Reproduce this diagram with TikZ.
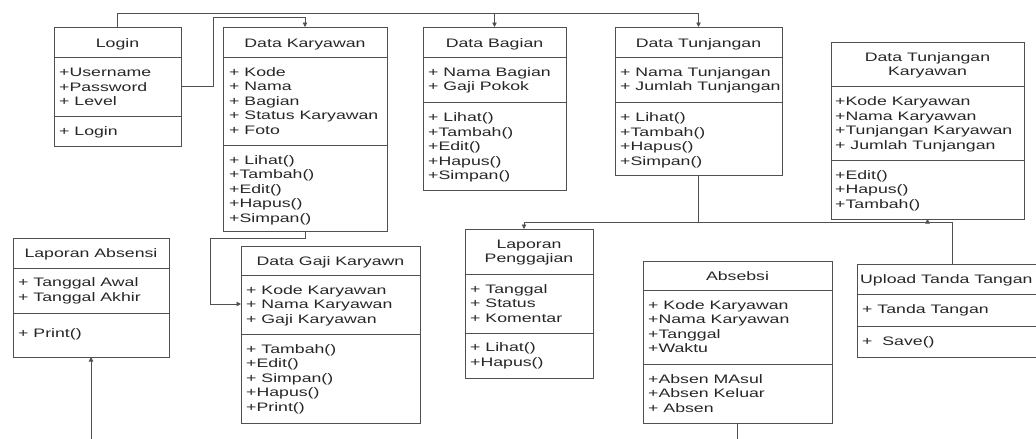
\documentclass[tikz,border=0pt]{standalone}
\usepackage{fontspec}
\setmainfont{Liberation Sans}[FakeStretch=1.44]
\usetikzlibrary{arrows.meta,calc}
\definecolor{linec}{HTML}{505050}
\definecolor{textc}{HTML}{262626}
\tikzset{
  ubox/.style={draw=linec,line width=0.9pt,inner sep=0pt,outer sep=0pt},
  divline/.style={draw=linec,line width=0.9pt},
  conn/.style={draw=linec,line width=0.9pt},
  tip/.style={-{Triangle[length=4.5pt,width=4.5pt]}},
  member/.style={anchor=base west,inner sep=0pt,text=textc,font=\fontsize{12.3}{14.5}\selectfont},
  utitle/.style={anchor=base,inner sep=0pt,text=textc,font=\fontsize{12.3}{14.5}\selectfont},
}
\newcommand\umlbox[5]{\node[ubox,minimum width={#4-#2},minimum height={#5-#3}] (#1) at ({(#2+#4)/2},{(#3+#5)/2}) {};}
\newcommand\umldiv[2]{\draw[divline] (#1.west |- 0,#2) -- (#1.east |- 0,#2);}
\newcommand\umlmembers[5]{\foreach \t [count=\i] in {#5} {\node[member] (#1-#2-\i) at (#3,{#4+14.5*(\i-1)}) {\t};}}
\begin{document}
\begin{tikzpicture}[x=1pt,y=-1pt]
\useasboundingbox (0,0) rectangle (1036,439);
\clip (0,0) rectangle (1036,439);
% Login
\umlbox{login}{54}{27}{181}{146}
\node[utitle] (login-t) at (login.north |- 0,47) {Login};
\umldiv{login}{57}
\umlmembers{login}{a}{59}{76.5}{+Username,+Password,+ Level}
\umldiv{login}{116}
\umlmembers{login}{m}{59}{135.5}{+ Login}
% Data Karyawan
\umlbox{dk}{223}{27}{387}{231}
\node[utitle] (dk-t) at (dk.north |- 0,47) {Data Karyawan};
\umldiv{dk}{57}
\umlmembers{dk}{a}{229}{76}{+ Kode,+ Nama,+ Bagian,+ Status Karyawan,+ Foto}
\umldiv{dk}{145}
\umlmembers{dk}{m}{229}{164.3}{+ Lihat(),+Tambah(),+Edit(),+Hapus(),+Simpan()}
% Data Bagian
\umlbox{db}{423}{27}{566}{190}
\node[utitle] (db-t) at (db.north |- 0,47) {Data Bagian};
\umldiv{db}{57}
\umlmembers{db}{a}{428}{76}{+ Nama Bagian,+ Gaji Pokok}
\umldiv{db}{102}
\umlmembers{db}{m}{428}{121.5}{+ Lihat(),+Tambah(),+Edit(),+Hapus(),+Simpan()}
% Data Tunjangan
\umlbox{dt}{615}{27}{782}{175}
\node[utitle] (dt-t) at (dt.north |- 0,47) {Data Tunjangan};
\umldiv{dt}{57}
\umlmembers{dt}{a}{620}{76}{+ Nama Tunjangan,+ Jumlah Tunjangan}
\umldiv{dt}{102}
\umlmembers{dt}{m}{620}{121.5}{+ Lihat(),+Tambah(),+Hapus(),+Simpan()}
% Data Tunjangan Karyawan
\umlbox{dtk}{831}{42}{1024}{219}
\node[utitle] (dtk-t1) at (dtk.north |- 0,61.5) {Data Tunjangan};
\node[utitle] (dtk-t2) at (dtk.north |- 0,75.5) {Karyawan};
\umldiv{dtk}{86}
\umlmembers{dtk}{a}{835}{105.5}{+Kode Karyawan,+Nama Karyawan,+Tunjangan Karyawan,+ Jumlah Tunjangan}
\umldiv{dtk}{160}
\umlmembers{dtk}{m}{835}{179}{+Edit(),+Hapus(),+Tambah()}
% Laporan Absensi
\umlbox{la}{13}{238}{169}{357}
\node[utitle] (la-t) at (la.north |- 0,257.5) {Laporan Absensi};
\umldiv{la}{268}
\umlmembers{la}{a}{18}{286.5}{+ Tanggal Awal,+ Tanggal Akhir}
\umldiv{la}{313}
\umlmembers{la}{m}{18}{337.5}{+ Print()}
% Data Gaji Karyawn
\umlbox{dg}{241}{246}{420}{423}
\node[utitle] (dg-t) at (dg.north |- 0,265) {Data Gaji Karyawn};
\umldiv{dg}{275}
\umlmembers{dg}{a}{246}{294}{+ Kode Karyawan,+ Nama Karyawan,+ Gaji Karyawan}
\umldiv{dg}{334}
\umlmembers{dg}{m}{246}{353.3}{+ Tambah(),+Edit(),+ Simpan(),+Hapus(),+Print()}
% Laporan Penggajian
\umlbox{lp}{465}{229}{593}{378}
\node[utitle] (lp-t1) at (lp.north |- 0,248.3) {Laporan};
\node[utitle] (lp-t2) at (lp.north |- 0,262.7) {Penggajian};
\umldiv{lp}{274}
\umlmembers{lp}{a}{470}{293.3}{+ Tanggal,+ Status,+ Komentar}
\umldiv{lp}{333}
\umlmembers{lp}{m}{470}{351.7}{+ Lihat(),+Hapus()}
% Absebsi
\umlbox{ab}{643}{261}{832}{423}
\node[utitle] (ab-t) at (ab.north |- 0,280) {Absebsi};
\umldiv{ab}{290}
\umlmembers{ab}{a}{648}{309.3}{+ Kode Karyawan,+Nama Karyawan,+Tanggal,+Waktu}
\umldiv{ab}{364}
\umlmembers{ab}{m}{648}{383.3}{+Absen MAsul,+Absen Keluar,+ Absen}
% Upload Tanda Tangan
\umlbox{up}{857}{264}{1047}{357}
\node[utitle,anchor=base west] (up-t) at (860,283.3) {Upload Tanda Tangan};
\umldiv{up}{294}
\umlmembers{up}{a}{862}{313.3}{+ Tanda Tangan}
\umldiv{up}{326}
\umlmembers{up}{m}{862}{345.7}{+~ Save()}
% connectors
\coordinate (top1) at (0,13);
\coordinate (k1) at (213,17);
\coordinate (g0) at (210,238);
\coordinate (g1) at (0,304);
\coordinate (h) at (0,222);
\coordinate (lpin) at ($(lp.north west)+(59,0)$);
\coordinate (bot) at (0,439);
\draw[conn,tip] (login.north) |- (dt.north |- top1) -- (dt.north);
\draw[conn,tip] (db.north |- top1) -- (db.north);
\draw[conn,tip] (login.east) -| (k1) -| (dk.north);
\draw[conn,tip] (dk.south) |- (g0) |- (dg.west |- g1);
\draw[conn] (dt.south) -- (dt.south |- h);
\draw[conn,tip] (up.north) |- (lpin |- h) -- (lpin);
\draw[conn,tip] (dtk.south |- h) -- (dtk.south);
\draw[conn] (ab.south) -- (ab.south |- bot);
\draw[conn,tip] (la.south |- bot) -- (la.south);
\end{tikzpicture}
\end{document}
